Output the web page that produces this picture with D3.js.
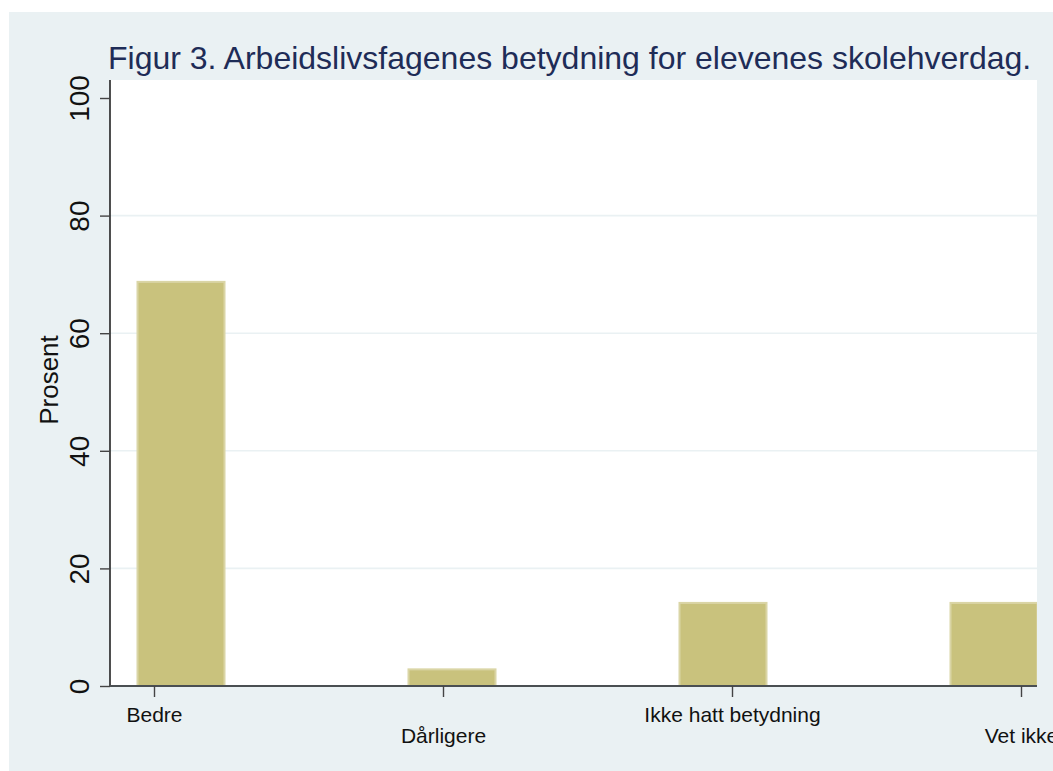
<!DOCTYPE html>
<html>
<head>
<meta charset="utf-8">
<script src="https://cdn.jsdelivr.net/npm/d3@7"></script>
<style>
  html, body { margin: 0; padding: 0; background: #ffffff; overflow: hidden; }
  svg { display: block; font-family: Arial, "Liberation Sans", sans-serif; }
</style>
</head>
<body>
<svg id="chart" width="1053" height="771"></svg>
<script>
const title = "Figur 3. Arbeidslivsfagenes betydning for elevenes skolehverdag.";
const yTitle = "Prosent";
const categories = ["Bedre", "Dårligere", "Ikke hatt betydning", "Vet ikke"];
const values = [68.9, 3.0, 14.3, 14.3];
const yTicks = [0, 20, 40, 60, 80, 100];

const W = 1053, H = 771;
const svg = d3.select("#chart");

// outer panel
svg.append("rect").attr("x", 9).attr("y", 12).attr("width", W - 9).attr("height", H - 12)
  .attr("fill", "#EAF1F3");

const plot = { left: 110, right: 1037, top: 80, bottom: 686 };

// plot area
svg.append("rect").attr("x", plot.left).attr("y", plot.top)
  .attr("width", plot.right - plot.left).attr("height", plot.bottom - plot.top)
  .attr("fill", "#ffffff");

const y = d3.scaleLinear().domain([0, 100]).range([686, 98]);

// gridlines
svg.append("g").selectAll("line").data(yTicks.filter(t => t > 0 && t < 100)).join("line")
  .attr("x1", plot.left).attr("x2", plot.right)
  .attr("y1", d => y(d)).attr("y2", d => y(d))
  .attr("stroke", "#EAF1F3").attr("stroke-width", 1.6);

// bars: band scale with step 271, bandwidth 89
const pIn = 1 - 89 / 271;
const xBar = d3.scaleBand().domain(categories).range([181 - 135.5, 994 + 135.5])
  .paddingInner(pIn).paddingOuter(pIn / 2);
// tick positions
const xTick = d3.scalePoint().domain(categories).range([154, 1021]);

svg.append("clipPath").attr("id", "plotclip").append("rect")
  .attr("x", plot.left).attr("y", plot.top - 5)
  .attr("width", plot.right - plot.left).attr("height", plot.bottom - plot.top + 10);

svg.append("g").attr("clip-path", "url(#plotclip)")
  .selectAll("rect").data(categories).join("rect")
  .attr("x", d => xBar(d) + 1)
  .attr("width", xBar.bandwidth() - 2)
  .attr("y", (d, i) => y(values[i]) + 1)
  .attr("height", (d, i) => y(0) - y(values[i]) - 1)
  .attr("fill", "#C9C27D")
  .attr("stroke", "#DAD5A6")
  .attr("stroke-width", 2);

// y axis
const yAxis = svg.append("g").attr("transform", `translate(${plot.left},0)`)
  .call(d3.axisLeft(y).tickValues(yTicks).tickSize(10).tickPadding(0).tickFormat(d3.format("d")));
yAxis.select(".domain").attr("d", `M0,${plot.top}V${plot.bottom}`).attr("stroke", "#222").attr("stroke-width", 1.6);
yAxis.selectAll(".tick line").attr("stroke", "#444").attr("stroke-width", 1.4);
yAxis.selectAll(".tick text")
  .attr("x", null).attr("dy", null)
  .attr("text-anchor", "middle")
  .attr("transform", "translate(-21,0) rotate(-90)")
  .attr("y", 0)
  .attr("font-size", 28).attr("font-family", "Arial, 'Liberation Sans', sans-serif")
  .attr("fill", "#111");

// x axis
const xAxis = svg.append("g").attr("transform", `translate(0,${plot.bottom})`)
  .call(d3.axisBottom(xTick).tickSize(11).tickPadding(0));
xAxis.select(".domain").attr("d", `M${plot.left},0H${plot.right}`).attr("stroke", "#4a4f52").attr("stroke-width", 2.2);
xAxis.selectAll(".tick line").attr("stroke", "#444").attr("stroke-width", 1.4);
xAxis.selectAll(".tick text")
  .attr("dy", null)
  .attr("y", (d, i) => i % 2 === 0 ? 36 : 57)
  .attr("font-size", 21).attr("font-family", "Arial, 'Liberation Sans', sans-serif")
  .attr("fill", "#111");

// y axis title
svg.append("text")
  .attr("transform", "translate(58,380) rotate(-90)")
  .attr("text-anchor", "middle")
  .attr("font-size", 26)
  .attr("fill", "#111")
  .text(yTitle);

// title
svg.append("text")
  .attr("x", 108).attr("y", 69)
  .attr("font-size", 32)
  .attr("fill", "#1E2C57")
  .text(title);
</script>
</body>
</html>
